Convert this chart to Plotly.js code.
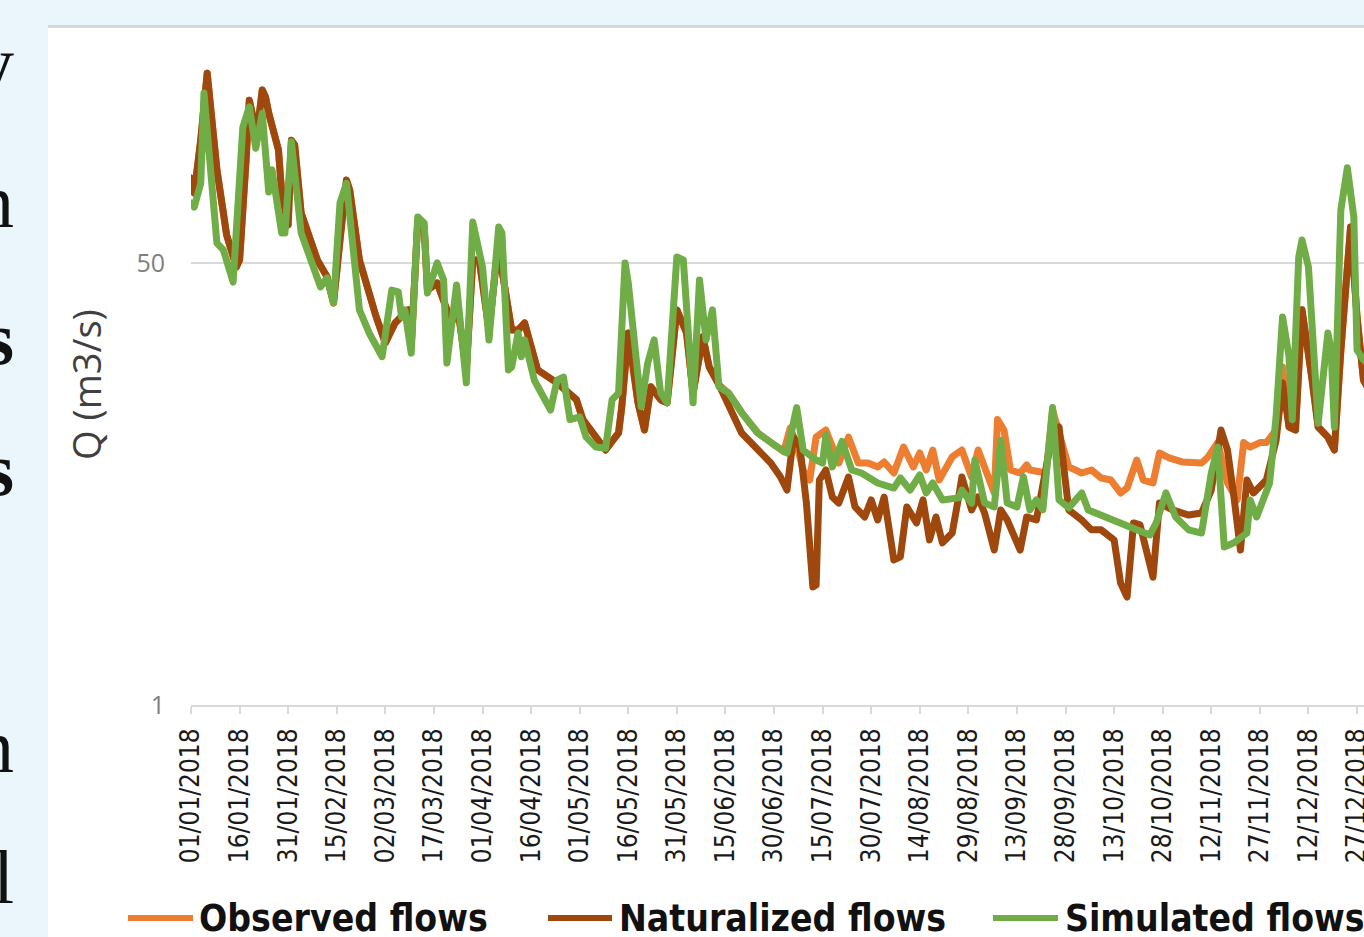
<!DOCTYPE html>
<html>
<head>
<meta charset="utf-8">
<script src="https://cdn.plot.ly/plotly-3.0.1.min.js"></script>
<style>
  html, body { margin:0; padding:0; width:1364px; height:937px; overflow:hidden; background:#eaf5fc; }
  .side { position:absolute; left:-200px; width:214px; text-align:right; font-family:'Liberation Serif','DejaVu Serif',serif; font-size:76px; line-height:76px; color:#111; }
  #frame { position:absolute; left:48px; top:25px; width:1340px; height:912px; background:#fff; border-top:3px solid #d6d6d6; }
  #chart { width:1340px; height:909px; }
  #chart path.js-line { stroke-linejoin: round; stroke-linecap: round; }
</style>
</head>
<body>
<div class="side" style="top:25px">y</div>
<div class="side" style="top:163px">n</div>
<div class="side" style="top:300px;font-weight:bold">s</div>
<div class="side" style="top:431px;font-weight:bold">s</div>
<div class="side" style="top:708px">n</div>
<div class="side" style="top:839px">l</div>
<div id="frame"><div id="chart"></div></div>
<script>
// ---------- data (day offsets from 01/01/2018, flows in m3/s) ----------
const seriesNames = ['Observed flows', 'Naturalized flows', 'Simulated flows'];

const obsDays = [0,1,3,5,8,11,14,15,17,18,19,20,22,23,24,27,28,30,31,32,34,39,42,44,46,48,49,52,57,60,63,67,68,70,72,73,76,79,81,82,85,87,89,92,95,96,99,101,103,107,113,119,121,126,128,132,133,135,138,140,142,145,147,150,153,155,158,160,163,166,170,175,180,183,185,187,189,191,193,196,200,203,206,209,212,214,217,220,223,225,227,229,231,235,238,241,243,246,248,249,251,253,256,258,259,264,266,268,271,275,278,281,284,287,289,292,294,297,299,302,306,312,314,317,320,323,325,327,330,332,335,337,339,341,343,346,348,351,353,355,358,360,362,364];
const obsQ = [106,92.8,148,268,114,64.0,48.2,51.3,124,211,185,144,231,217,188,136,92.8,69.9,148,142,77.8,51.3,44.2,35.1,61.2,104,95.3,51.3,31.5,24.6,29.4,33.0,24.2,71.8,68.1,39.3,41.9,33.0,30.2,36.0,19.4,51.3,51.3,27.6,61.2,47.0,27.6,27.6,29.4,19.4,17.3,14.9,12.5,10.4,9.55,11.1,14.0,26.9,14.5,11.4,16.7,14.9,14.5,33.0,26.9,15.8,26.0,19.9,17.0,15.8,13.3,11.1,10.0,9.4,11.6,10.0,8.0,7.32,10.7,11.4,8.51,10.7,8.51,8.51,8.22,8.59,7.79,9.8,8.22,9.3,8.0,9.55,7.32,8.98,9.55,7.52,9.55,7.52,6.53,12.5,11.4,8.0,7.79,8.36,8.0,7.79,13.6,11.1,8.22,7.79,8.0,7.45,7.32,6.53,6.82,8.74,7.32,7.13,9.3,8.90,8.59,8.51,8.98,10.2,7.13,6.14,10.2,9.8,10.2,10.2,11.4,19.9,11.7,11.4,33.0,18.2,11.7,10.7,9.55,23.1,68.7,31.0,17.7,16.0];

const natDays = [0,1,3,5,8,11,14,15,17,18,19,20,22,23,24,27,28,30,31,32,34,39,42,44,46,48,49,52,57,60,63,67,68,70,72,73,76,79,81,82,85,87,89,92,95,96,99,101,103,107,113,119,121,126,128,132,133,135,138,140,142,145,147,150,153,155,158,160,163,170,176,179,182,184,186,188,190,192,193,194,196,198,200,203,205,208,210,212,214,217,219,221,224,226,228,230,232,235,237,238,241,243,245,248,250,252,256,258,261,266,268,271,275,278,281,285,287,289,291,293,297,299,303,308,312,315,318,320,322,324,326,328,332,335,337,339,341,343,346,348,351,353,355,358,360,362,364];
const natQ = [106,92.8,148,268,114,64.0,48.2,51.3,124,211,185,144,231,217,188,136,92.8,69.9,148,142,77.8,51.3,44.2,35.1,61.2,104,95.3,51.3,31.5,24.6,29.4,33.0,24.2,71.8,68.1,39.3,41.9,33.0,30.2,36.0,19.4,51.3,51.3,27.6,61.2,47.0,27.6,27.6,29.4,19.4,17.3,14.9,12.5,10.4,9.55,11.1,14.0,26.9,14.5,11.4,16.7,14.9,14.5,33.0,26.9,15.8,26.0,19.9,17.0,11.1,9.3,8.51,7.52,6.70,10.7,9.8,5.97,2.84,2.89,7.32,8.0,6.30,5.97,7.52,5.77,5.28,6.14,5.14,6.30,3.61,3.71,5.77,5.01,6.14,4.31,5.28,4.20,4.58,6.30,7.52,5.62,6.30,5.47,3.94,5.62,5.14,3.94,5.28,5.14,11.1,11.7,5.62,5.14,4.71,4.71,4.31,2.94,2.60,5.01,4.92,3.10,5.97,5.62,5.37,5.47,6.70,11.4,9.55,6.30,3.94,7.32,6.53,7.32,10.4,17.3,11.7,11.4,33.0,18.2,11.7,10.7,9.55,23.1,68.7,31.0,17.7,16.0];

const simDays = [0,1,3,4,8,10,13,16,18,20,22,24,25,28,29,31,34,40,42,44,46,48,52,55,59,61,62,64,65,66,68,70,72,73,76,78,79,82,85,87,89,90,92,95,96,98,99,101,102,103,106,111,113,115,117,120,122,125,128,130,132,134,135,137,139,141,143,145,147,150,152,155,157,159,161,163,166,170,175,180,184,187,189,193,195,196,198,201,204,207,212,217,219,222,225,227,229,232,237,238,241,242,245,248,250,252,255,257,259,261,263,266,268,271,275,277,282,287,292,296,298,301,304,308,312,315,317,319,322,324,326,327,329,331,333,335,337,339,340,342,343,345,348,351,352,353,355,357,359,360,362,364];
const simQ = [85.0,82.0,101,225,59.6,56.1,42.2,166,199,138,188,93.7,114,65.2,65.2,146,65.2,40.4,43.8,35.1,85.0,101,33.0,26.9,21.8,33.0,39.3,38.7,31.0,33.0,22.5,75.1,71.2,38.3,50.0,43.0,20.6,41.1,17.3,71.8,56.1,48.2,25.3,68.7,65.2,19.4,19.9,26.9,21.8,25.3,17.7,13.6,17.7,18.2,12.5,12.8,10.7,9.8,9.7,14.9,15.8,50.0,41.9,24.6,14.0,20.6,25.3,15.8,14.5,52.7,51.3,14.5,43.0,25.3,33.0,16.7,15.8,13.3,11.1,10.0,9.3,13.9,9.55,8.74,8.51,10.9,8.22,10.3,8.0,7.79,7.13,6.82,7.45,6.70,7.66,6.53,7.13,6.14,6.25,6.70,5.97,8.74,5.97,5.77,10.4,5.97,5.77,7.52,5.62,6.14,5.62,13.9,6.14,5.72,6.53,5.62,5.28,5.01,4.71,4.50,5.01,6.53,5.28,4.71,4.58,7.79,9.8,4.05,4.20,4.42,4.58,6.14,5.28,6.14,7.13,12.8,31.0,21.8,12.5,52.7,61.2,48.2,12.1,26.9,23.1,11.7,79.9,116,75.1,23.1,21.2,20.2];

const xTickLabels = ['01/01/2018','16/01/2018','31/01/2018','15/02/2018','02/03/2018','17/03/2018','01/04/2018','16/04/2018','01/05/2018','16/05/2018','31/05/2018','15/06/2018','30/06/2018','15/07/2018','30/07/2018','14/08/2018','29/08/2018','13/09/2018','28/09/2018','13/10/2018','28/10/2018','12/11/2018','27/11/2018','12/12/2018','27/12/2018'];
const yTickVals = [1, 50];
const yTickLabels = ['1', '50'];
const yTitle = 'Q (m3/s)';

// ---------- styling ----------
const colors = ['#ed7d31', '#9e480e', '#70ad47'];
const narrow = "'DejaVu Sans Condensed','Liberation Sans Narrow',sans-serif";

function dayToDate(d) {
  const t = new Date(Date.UTC(2018, 0, 1 + d));
  return t.toISOString().slice(0, 10);
}
function labelToDate(s) {
  const p = s.split('/');
  return p[2] + '-' + p[1] + '-' + p[0];
}

const W = 1340, H = 909;
const M = { l: 143, r: 18, t: 2, b: 232 };
const PW = W - M.l - M.r, PH = H - M.t - M.b;
// page pixel -> paper coords (frame content starts at page x=48, y=28)
const px = x => (x - 48 - M.l) / PW;
const py = y => 1 - (y - 28 - M.t) / PH;

const allDays = [obsDays, natDays, simDays];
const allQ = [obsQ, natQ, simQ];
const traces = allDays.map((days, i) => ({
  type: 'scatter', mode: 'lines', name: seriesNames[i],
  x: days.map(dayToDate), y: allQ[i],
  line: { color: colors[i], width: 7 },
  hoverinfo: 'skip'
}));

const legendLines = [[128, 193], [548, 612], [993, 1058]];
const legendTextX = [197, 617, 1063];
const legendY = 918;

const shapes = legendLines.map((p, i) => ({
  type: 'line', xref: 'paper', yref: 'paper',
  x0: px(p[0]), x1: px(p[1]), y0: py(legendY), y1: py(legendY),
  line: { color: colors[i], width: 6 }
}));

const annotations = seriesNames.map((n, i) => ({
  text: n, xref: 'paper', yref: 'paper', x: px(legendTextX[i]), y: py(legendY),
  xanchor: 'left', yanchor: 'middle', showarrow: false,
  font: { family: narrow, size: 37, color: '#111', weight: 'bold' }
}));
annotations.push({
  text: yTitle, xref: 'paper', yref: 'paper', x: px(86), y: py(385),
  xanchor: 'center', yanchor: 'middle', showarrow: false, textangle: -90,
  font: { family: "'Open Sans', sans-serif", size: 38, color: '#404040' }
});

const layout = {
  width: W, height: H, margin: M,
  paper_bgcolor: '#ffffff', plot_bgcolor: '#ffffff',
  showlegend: false,
  xaxis: {
    type: 'date', range: ['2018-01-01', '2018-12-31'],
    tickvals: xTickLabels.map(labelToDate), ticktext: xTickLabels,
    tickangle: -90, tickfont: { family: narrow, size: 26, color: '#1a1a1a' },
    ticks: 'outside', ticklen: 7, tickwidth: 2, tickcolor: '#d9d9d9',
    ticklabelstandoff: 4,
    showline: true, linecolor: '#d9d9d9', linewidth: 2,
    showgrid: false, zeroline: false, fixedrange: true
  },
  yaxis: {
    type: 'log', range: [0, 2.594],
    tickvals: yTickVals, ticktext: yTickLabels,
    tickfont: { family: "'Open Sans', sans-serif", size: 25, color: '#7f7f7f' },
    showgrid: true, gridcolor: '#d9d9d9', gridwidth: 2,
    showline: false, zeroline: false, ticks: '', ticklabelstandoff: 25, fixedrange: true
  },
  shapes: shapes,
  annotations: annotations
};

Plotly.newPlot('chart', traces, layout, { staticPlot: true, displayModeBar: false });
</script>
</body>
</html>
